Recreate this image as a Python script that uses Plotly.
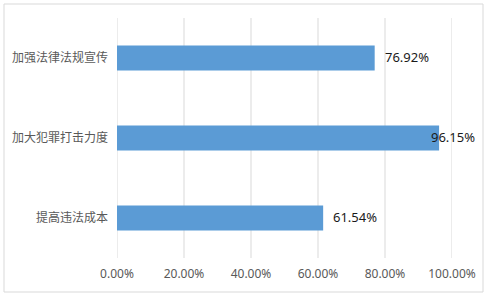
import plotly.graph_objects as go

categories = ['提高违法成本', '加大犯罪打击力度', '加强法律法规宣传']
values = [0.6154, 0.9615, 0.7692]
labels = ['61.54%', '96.15%', '76.92%']
tick_vals = [0, 0.2, 0.4, 0.6, 0.8, 1.0]
tick_text = ['0.00%', '20.00%', '40.00%', '60.00%', '80.00%', '100.00%']

W, H = 489, 297
L, R, T, B = 117, 37, 18, 39

fig = go.Figure()
fig.add_trace(go.Bar(
    x=values, y=categories, orientation='h',
    marker=dict(color='#5B9BD5', line=dict(width=0)),
    hoverinfo='skip',
))

for tv in tick_vals:
    fig.add_vline(x=tv, line=dict(color='#D9D9D9', width=1), layer='below')

for v, c, t in zip(values, categories, labels):
    inside = v > 0.9
    fig.add_annotation(
        x=v, y=c, xref='x', yref='y', text=t, showarrow=False,
        xanchor='right' if inside else 'left',
        xshift=38 if inside else 8, yshift=1,
        font=dict(family='Noto Sans, Open Sans, sans-serif', size=13, color='#1a1a1a'),
    )

pw = W - L - R
ph = H - T - B
fig.add_shape(
    type='rect', xref='paper', yref='paper',
    x0=(4 - L) / pw, x1=(483 - L) / pw,
    y0=(H - B - 292) / ph, y1=(H - B - 4) / ph,
    line=dict(color='#D9D9D9', width=1), fillcolor='rgba(0,0,0,0)', layer='below',
)

fig.update_layout(
    width=W, height=H,
    margin=dict(l=L, r=R, t=T, b=B, pad=0),
    paper_bgcolor='white', plot_bgcolor='white',
    bargap=0.69,
    showlegend=False,
    font=dict(family='Noto Sans CJK SC, Noto Sans, sans-serif', color='#595959'),
    xaxis=dict(
        range=[0, 1.0], tickvals=tick_vals, ticktext=tick_text,
        showgrid=False, zeroline=False, showline=False, ticks='',
        tickfont=dict(family='Noto Sans, Open Sans, sans-serif', size=12, color='#595959'),
        ticklabelstandoff=7, fixedrange=True,
    ),
    yaxis=dict(
        showgrid=False, zeroline=False, showline=False, ticks='',
        tickfont=dict(family='Noto Sans CJK SC, sans-serif', size=12, color='#595959'),
        ticklabelstandoff=8, fixedrange=True,
    ),
)

fig.write_html('out.html', config={'displayModeBar': False})
